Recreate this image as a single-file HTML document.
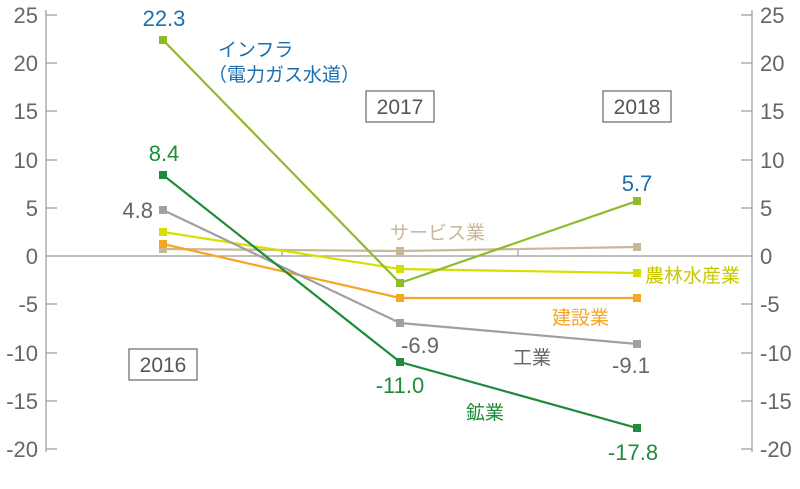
<!DOCTYPE html>
<html><head><meta charset="utf-8"><style>
body{margin:0;background:#fff}
svg{display:block;font-family:"Liberation Sans","Noto Sans CJK JP",sans-serif}
</style></head><body>
<svg width="800" height="489" viewBox="0 0 800 489">
<g stroke="#999" stroke-width="1.2">
<line x1="46" y1="10" x2="46" y2="452"/>
<line x1="752" y1="10" x2="752" y2="452"/>
<line x1="46" y1="256" x2="752" y2="256"/>
<line x1="282" y1="250" x2="282" y2="256"/><line x1="518" y1="250" x2="518" y2="256"/>
<g id="t">
<line x1="46" y1="15" x2="57" y2="15"/><line x1="46" y1="63" x2="57" y2="63"/><line x1="46" y1="111" x2="57" y2="111"/><line x1="46" y1="160" x2="57" y2="160"/><line x1="46" y1="208" x2="57" y2="208"/><line x1="46" y1="304" x2="57" y2="304"/><line x1="46" y1="353" x2="57" y2="353"/><line x1="46" y1="401" x2="57" y2="401"/><line x1="46" y1="449" x2="57" y2="449"/>
</g>
<use href="#t" x="695"/>
</g>
<g fill="#666" font-size="22">
<g text-anchor="end">
<text x="38" y="23">25</text><text x="38" y="71">20</text><text x="38" y="119">15</text><text x="38" y="168">10</text><text x="38" y="216">5</text><text x="38" y="264">0</text><text x="38" y="312">-5</text><text x="38" y="361">-10</text><text x="38" y="409">-15</text><text x="38" y="457">-20</text>
</g>
<text x="760" y="23">25</text><text x="760" y="71">20</text><text x="760" y="119">15</text><text x="760" y="168">10</text><text x="760" y="216">5</text><text x="760" y="264">0</text><text x="760" y="312">-5</text><text x="760" y="361">-10</text><text x="760" y="409">-15</text><text x="760" y="457">-20</text>
</g>
<g fill="none" stroke-width="2.2">
<polyline stroke="#c8b89a" points="163,249 400,251 637,247"/>
<polyline stroke="#f5a623" points="163,244 400,298 637,298"/>
<polyline stroke="#d7df00" points="163,232 400,269 637,273"/>
<polyline stroke="#a0a0a0" points="163,210 400,323 637,344"/>
<polyline stroke="#1e8c3a" points="163,175 400,362 637,428"/>
<polyline stroke="#8dbb2b" points="163,40 400,283 637,201"/>
</g>
<g>
<g fill="#c8b89a"><rect x="159" y="245" width="8" height="8"/><rect x="396" y="247" width="8" height="8"/><rect x="633" y="243" width="8" height="8"/></g>
<g fill="#f5a623"><rect x="159" y="240" width="8" height="8"/><rect x="396" y="294" width="8" height="8"/><rect x="633" y="294" width="8" height="8"/></g>
<g fill="#d7df00"><rect x="159" y="228" width="8" height="8"/><rect x="396" y="265" width="8" height="8"/><rect x="633" y="269" width="8" height="8"/></g>
<g fill="#a0a0a0"><rect x="159" y="206" width="8" height="8"/><rect x="396" y="319" width="8" height="8"/><rect x="633" y="340" width="8" height="8"/></g>
<g fill="#1e8c3a"><rect x="159" y="171" width="8" height="8"/><rect x="396" y="358" width="8" height="8"/><rect x="633" y="424" width="8" height="8"/></g>
<g fill="#8dbb2b"><rect x="159" y="36" width="8" height="8"/><rect x="396" y="279" width="8" height="8"/><rect x="633" y="197" width="8" height="8"/></g>
</g>
<g font-size="22">
<text x="164" y="26" fill="#1a6fb0" text-anchor="middle">22.3</text>
<text x="164" y="161" fill="#1e8c3a" text-anchor="middle">8.4</text>
<text x="153" y="218" fill="#666" text-anchor="end">4.8</text>
<text x="420" y="353" fill="#666" text-anchor="middle">-6.9</text>
<text x="400" y="393" fill="#1e8c3a" text-anchor="middle">-11.0</text>
<text x="637" y="191" fill="#1a6fb0" text-anchor="middle">5.7</text>
<text x="631" y="373" fill="#666" text-anchor="middle">-9.1</text>
<text x="633" y="460" fill="#1e8c3a" text-anchor="middle">-17.8</text>
</g>
<g font-size="19">
<text x="218" y="56" fill="#1a6fb0">インフラ</text>
<text x="208" y="81" fill="#1a6fb0">（電力ガス水道）</text>
<text x="390" y="239" fill="#c8b89a">サービス業</text>
<text x="645" y="282" fill="#c8c800">農林水産業</text>
<text x="552" y="324" fill="#f5a623">建設業</text>
<text x="513" y="364" fill="#666">工業</text>
<text x="466" y="419" fill="#1e8c3a">鉱業</text>
</g>
<g fill="none" stroke="#666" stroke-width="1.2">
<rect x="129" y="349" width="68" height="31"/>
<rect x="366" y="91" width="68" height="31"/>
<rect x="603" y="91" width="68" height="31"/>
</g>
<g font-size="21" fill="#555" text-anchor="middle">
<text x="163" y="372">2016</text><text x="400" y="114">2017</text><text x="637" y="114">2018</text>
</g>
</svg>
</body></html>
